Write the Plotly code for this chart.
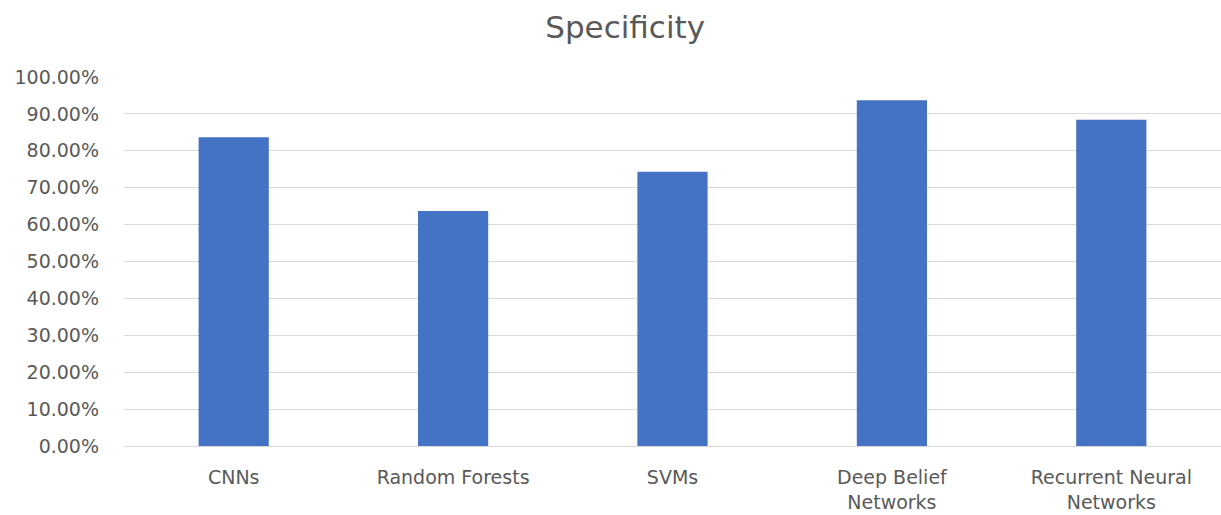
import plotly.graph_objects as go

# Specificity of each model family
models = ["CNNs", "Random Forests", "SVMs", "Deep Belief Networks", "Recurrent Neural Networks"]
model_labels = ["CNNs", "Random Forests", "SVMs", "Deep Belief<br>Networks", "Recurrent Neural<br>Networks"]
specificity = [0.837, 0.637, 0.743, 0.937, 0.884]

y_ticks = [i / 10 for i in range(11)]

fig = go.Figure(
    go.Bar(
        x=models,
        y=specificity,
        marker=dict(color="#4472C4", line=dict(width=0)),
        hovertemplate="%{x}: %{y:.2%}<extra></extra>",
    )
)

fig.update_layout(
    width=1221,
    height=515,
    margin=dict(l=124, r=0, t=77, b=69),
    paper_bgcolor="white",
    plot_bgcolor="white",
    bargap=0.68,
    showlegend=False,
    font=dict(family="DejaVu Sans", color="#595959", size=19),
    title=dict(
        text="Specificity",
        x=0.512,
        xref="container",
        xanchor="center",
        y=0.947,
        yref="container",
        yanchor="middle",
        font=dict(size=31, color="#595959"),
    ),
)

fig.update_xaxes(
    tickmode="array",
    tickvals=models,
    ticktext=model_labels,
    showline=True,
    linecolor="#d9d9d9",
    linewidth=1,
    ticks="",
    tickfont=dict(size=19, color="#595959"),
    ticklabelstandoff=14,
)

fig.update_yaxes(
    range=[0, 1.0],
    tickvals=y_ticks,
    tickformat=".2%",
    showgrid=True,
    gridcolor="#d9d9d9",
    gridwidth=1,
    zeroline=False,
    ticks="",
    tickfont=dict(size=19, color="#595959"),
    ticklabelstandoff=24,
)

fig.write_html("out.html")
